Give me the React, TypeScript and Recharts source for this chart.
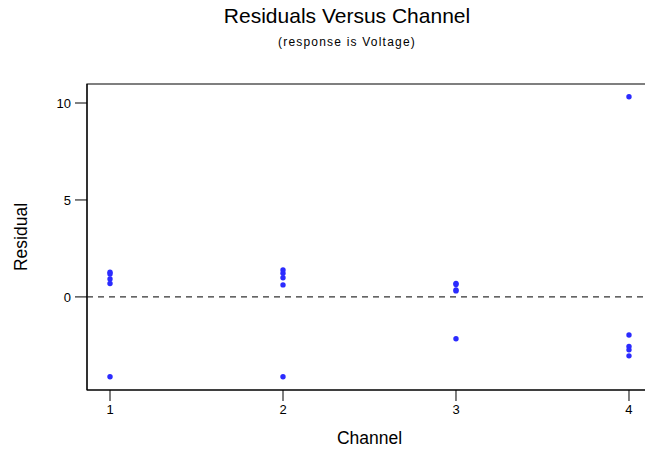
import React from "react";
import {
  ScatterChart,
  Scatter,
  XAxis,
  YAxis,
  ReferenceLine,
  ReferenceArea,
  Label,
} from "recharts";

// residuals for each channel, five runs per channel
const ch1 = [1.27, 1.18, 0.93, 0.69, -4.12];
const ch2 = [1.39, 1.22, 0.99, 0.62, -4.12];
const ch3 = [0.7, 0.64, 0.36, 0.31, -2.16];
const ch4 = [10.32, -1.96, -2.56, -2.73, -3.04];
const channels = [1, 2, 3, 4];
const xTicks = [1, 2, 3, 4];
const yTicks = [0, 5, 10];

const points = [ch1, ch2, ch3, ch4].flatMap((vals, i) =>
  vals.map((r) => ({ channel: channels[i], residual: r }))
);

const X_DOMAIN: [number, number] = [0.867, 4.133];
const Y_DOMAIN: [number, number] = [-4.8, 10.98];
const FONT = "'Liberation Sans', Arial, sans-serif";

const Dot = (props: any) => (
  <circle cx={props.cx} cy={props.cy} r={2.7} fill="#2b2bff" />
);

export default function App() {
  return (
    <div
      style={{
        position: "absolute",
        left: 0,
        top: 0,
        width: 645,
        height: 454,
        overflow: "hidden",
        background: "#fff",
        fontFamily: FONT,
      }}
    >
      <div
        style={{
          position: "absolute",
          top: 4,
          left: 0,
          width: 694,
          textAlign: "center",
          fontSize: 21,
          color: "#000",
        }}
      >
        Residuals Versus Channel
      </div>
      <div
        style={{
          position: "absolute",
          top: 35,
          left: 0,
          width: 694,
          textAlign: "center",
          fontSize: 12,
          letterSpacing: 1.2,
          color: "#000",
        }}
      >
        (response is Voltage)
      </div>
      <ScatterChart
        width={660}
        height={454}
        margin={{ top: 84, right: 8, bottom: 0, left: 0 }}
        style={{ position: "absolute", left: 0, top: 0 }}
      >
        <XAxis
          type="number"
          dataKey="channel"
          domain={X_DOMAIN}
          ticks={xTicks}
          allowDataOverflow
          height={64}
          tickSize={11}
          tickMargin={4}
          stroke="#000"
          tick={{ fill: "#000", fontSize: 13, fontFamily: FONT }}
        >
          <Label
            value="Channel"
            position="center"
            dy={16}
            style={{ fill: "#000", fontSize: 17.5, fontFamily: FONT }}
          />
        </XAxis>
        <YAxis
          type="number"
          dataKey="residual"
          domain={Y_DOMAIN}
          ticks={yTicks}
          allowDataOverflow
          width={87}
          tickSize={12}
          tickMargin={4}
          stroke="#000"
          tick={{ fill: "#000", fontSize: 13, fontFamily: FONT }}
        >
          <Label
            value="Residual"
            position="center"
            angle={-90}
            dx={-23}
            style={{ fill: "#000", fontSize: 17.5, fontFamily: FONT }}
          />
        </YAxis>
        <ReferenceArea
          x1={X_DOMAIN[0]}
          x2={X_DOMAIN[1]}
          y1={Y_DOMAIN[0]}
          y2={Y_DOMAIN[1]}
          fill="none"
          stroke="#000"
          strokeWidth={1.2}
        />
        <ReferenceLine
          y={0}
          stroke="#333"
          strokeWidth={1.3}
          strokeDasharray="6 5"
        />
        <Scatter
          data={points}
          shape={<Dot />}
          isAnimationActive={false}
        />
      </ScatterChart>
    </div>
  );
}
